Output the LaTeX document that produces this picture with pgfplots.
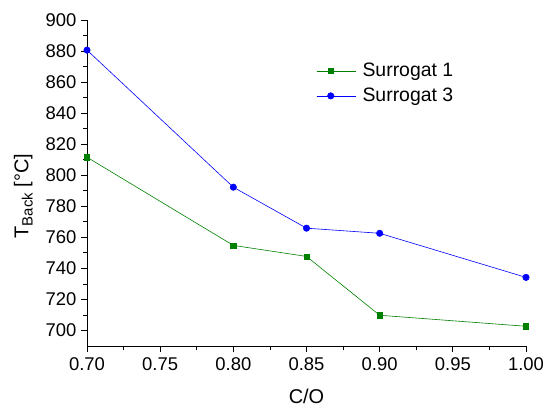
\documentclass[border=0pt]{standalone}
\usepackage{pgfplots}
\pgfplotsset{compat=1.18}
\usepackage{fontspec}
\setmainfont{Liberation Sans}
\definecolor{sgreen}{RGB}{0,128,0}
\definecolor{sblue}{RGB}{0,0,255}
\begin{document}
\begin{tikzpicture}
\path[use as bounding box] (-87bp,-63bp) rectangle (460bp,346bp);
\begin{axis}[
  at={(0,0)}, anchor=south west,
  scale only axis,
  width=439bp, height=326bp,
  xmin=0.7, xmax=1.0, ymin=690, ymax=900,
  axis lines=left,
  axis line style={-, line width=0.8pt},
  xtick={0.70,0.75,0.80,0.85,0.90,0.95,1.00},
  ytick={700,720,...,900},
  minor x tick num=1, minor y tick num=1,
  tick align=outside,
  major tick length=6bp, minor tick length=3.5bp,
  tick style={black, line width=0.8pt},
  xticklabel style={yshift=-2bp, /pgf/number format/.cd, fixed, fixed zerofill, precision=2},
  /pgf/number format/assume math mode=true,
  ticklabel style={font=\fontsize{18.5}{20}\selectfont},
  yticklabel style={xshift=-1bp},
  xlabel style={font=\fontsize{20}{22}\selectfont, at={(axis description cs:0.5,-0.156)}, anchor=center},
  ylabel style={font=\fontsize{20}{22}\selectfont, at={(axis description cs:-0.145,0.46)}, anchor=center},
  xlabel={C/O},
  ylabel={T\raisebox{-0.4ex}{\fontsize{15}{16}\selectfont Back} [°C]},
  legend style={draw=none, fill=none, at={(rel axis cs:0.515,0.88)}, anchor=north west,
    font=\fontsize{19.5}{21}\selectfont, row sep=6pt},
  legend image code/.code={\draw[#1] (0cm,0cm) -- (0.5cm,0cm); \draw[#1,mark repeat=2,mark phase=2] plot coordinates {(0cm,0cm) (0.5cm,0cm) (1.0cm,0cm)};\draw[#1] (0.5cm,0cm) -- (1.4cm,0cm);},
  legend cell align=left,
  clip=false,
]
\addplot[sgreen, line width=0.6pt, mark=square*, mark size=2.6pt, mark options={solid, fill=sgreen}] coordinates {
(0.70,811.6) (0.80,754.8) (0.85,747.7) (0.90,709.8) (1.00,702.7)};
\addlegendentry{\hspace{4pt}Surrogat 1}
\addplot[sblue, line width=0.6pt, mark=*, mark size=3.2pt, mark options={solid, fill=sblue}] coordinates {
(0.70,880.6) (0.80,792.3) (0.85,765.9) (0.90,762.6) (1.00,734.2)};
\addlegendentry{\hspace{4pt}Surrogat 3}
\end{axis}
\end{tikzpicture}
\end{document}
